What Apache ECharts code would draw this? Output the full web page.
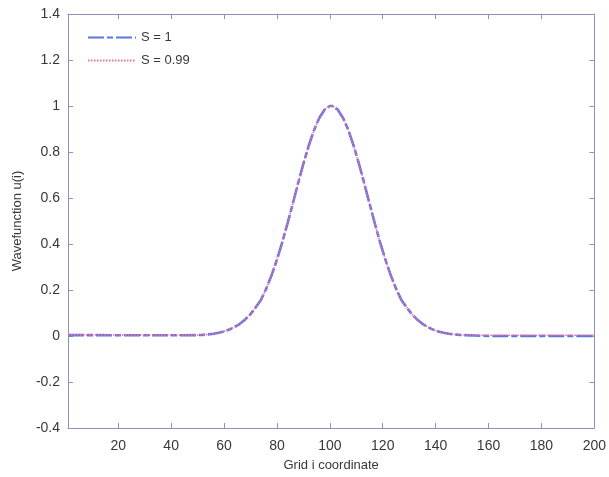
<!DOCTYPE html>
<html>
<head>
<meta charset="utf-8">
<script src="https://cdn.jsdelivr.net/npm/echarts@6/dist/echarts.min.js"></script>
<style>
  html, body { margin: 0; padding: 0; background: #ffffff; }
  #chart { width: 609px; height: 477px; }
</style>
</head>
<body>
<div id="chart"></div>
<script>
const gridI = [1, 10, 20, 30, 40, 45,
  50, 52, 54, 56, 58, 60, 62, 64, 66, 68, 70, 72, 74, 76, 78, 80, 82, 84, 86, 88, 90, 92, 94, 96, 98, 100,
  101, 103, 105, 107, 109, 111, 113, 115, 117, 119, 121, 123, 125, 127, 129, 131, 133, 135, 137, 139, 141, 143, 145, 147, 149, 151,
  155, 160, 170, 180, 190, 200];

const valuesS1 = [0.004, 0.004, 0.003, 0.003, 0.003, 0.003,
  0.004, 0.005, 0.007, 0.010, 0.014, 0.020, 0.028, 0.039, 0.053, 0.072, 0.095, 0.125, 0.158, 0.207, 0.265, 0.332, 0.407, 0.490, 0.576, 0.664, 0.749, 0.827, 0.895, 0.948, 0.984, 1.000,
  1.000, 0.984, 0.948, 0.895, 0.827, 0.749, 0.664, 0.576, 0.490, 0.407, 0.332, 0.265, 0.207, 0.158, 0.125, 0.095, 0.072, 0.053, 0.039, 0.028, 0.020, 0.014, 0.010, 0.007, 0.005, 0.004,
  0.002, 0.000, 0.000, 0.000, 0.000, 0.000];

const valuesS099 = [0.005, 0.005, 0.004, 0.004, 0.004, 0.004,
  0.004, 0.005, 0.007, 0.010, 0.014, 0.020, 0.028, 0.039, 0.053, 0.072, 0.095, 0.125, 0.158, 0.207, 0.265, 0.332, 0.407, 0.490, 0.576, 0.664, 0.749, 0.827, 0.895, 0.948, 0.984, 1.000,
  1.000, 0.984, 0.948, 0.895, 0.827, 0.749, 0.664, 0.576, 0.490, 0.407, 0.332, 0.265, 0.207, 0.158, 0.125, 0.095, 0.072, 0.053, 0.039, 0.028, 0.020, 0.014, 0.010, 0.007, 0.005, 0.004,
  0.004, 0.003, 0.003, 0.003, 0.003, 0.003];

const xTicks = [20, 40, 60, 80, 100, 120, 140, 160, 180, 200];
const seriesNames = ['S = 1', 'S = 0.99'];
const xTitle = 'Grid i coordinate';
const yTitle = 'Wavefunction u(i)';

const axisColor = '#8a92bf';
const textColor = '#383838';
const font = '"Liberation Sans", Arial, sans-serif';

const chart = echarts.init(document.getElementById('chart'), null, { renderer: 'canvas' });

const pairs = (vals) => gridI.map((x, i) => [x, vals[i]]);

const option = {
  animation: false,
  backgroundColor: '#ffffff',
  textStyle: { fontFamily: font },
  grid: { left: 68, right: 12, top: 14, bottom: 49, containLabel: false },
  legend: {
    orient: 'vertical',
    left: 82,
    top: 26,
    itemWidth: 48,
    itemHeight: 14,
    itemGap: 10,
    itemStyle: { opacity: 0 },
    textStyle: { fontSize: 13, color: textColor, fontFamily: font },
    data: seriesNames
  },
  xAxis: [{
    type: 'value',
    min: 1,
    max: 200,
    position: 'bottom',
    name: xTitle,
    nameLocation: 'middle',
    nameGap: 31,
    nameTextStyle: { fontSize: 13, color: textColor, fontFamily: font },
    axisLine: { show: true, onZero: false, lineStyle: { color: axisColor, width: 1 } },
    axisTick: { show: true, inside: true, length: 5, customValues: xTicks, lineStyle: { color: axisColor } },
    axisLabel: { show: true, customValues: xTicks, margin: 11, fontSize: 14, color: textColor, fontFamily: font },
    splitLine: { show: false }
  }, {
    type: 'value',
    min: 1,
    max: 200,
    position: 'top',
    axisLine: { show: true, onZero: false, lineStyle: { color: axisColor, width: 1 } },
    axisTick: { show: true, inside: true, length: 5, customValues: xTicks, lineStyle: { color: axisColor } },
    axisLabel: { show: false },
    splitLine: { show: false }
  }],
  yAxis: [{
    type: 'value',
    min: -0.4,
    max: 1.4,
    interval: 0.2,
    position: 'left',
    name: yTitle,
    nameLocation: 'middle',
    nameGap: 44,
    nameRotate: 90,
    nameTextStyle: { fontSize: 13, color: textColor, fontFamily: font },
    axisLine: { show: true, onZero: false, lineStyle: { color: axisColor, width: 1 } },
    axisTick: { show: true, inside: true, length: 5, lineStyle: { color: axisColor } },
    axisLabel: {
      show: true, margin: 8, fontSize: 14, color: textColor, fontFamily: font,
      formatter: (v) => String(Math.round(v * 10) / 10)
    },
    splitLine: { show: false }
  }, {
    type: 'value',
    min: -0.4,
    max: 1.4,
    interval: 0.2,
    position: 'right',
    axisLine: { show: true, onZero: false, lineStyle: { color: axisColor, width: 1 } },
    axisTick: { show: true, inside: true, length: 5, lineStyle: { color: axisColor } },
    axisLabel: { show: false },
    splitLine: { show: false }
  }],
  series: [{
    name: seriesNames[0],
    type: 'line',
    xAxisIndex: 0,
    yAxisIndex: 0,
    data: pairs(valuesS1),
    showSymbol: false,
    symbol: 'none',
    color: '#5d76dc',
    lineStyle: { color: '#5d76dc', width: 2.6, type: [16, 3, 6, 3] },
    z: 2
  }, {
    name: seriesNames[1],
    type: 'line',
    xAxisIndex: 0,
    yAxisIndex: 0,
    data: pairs(valuesS099),
    showSymbol: false,
    symbol: 'none',
    color: '#ee6fa6',
    lineStyle: { color: '#ee6fa6', width: 1.6, type: [1.5, 1.5] },
    z: 3
  }]
};

chart.setOption(option);
</script>
</body>
</html>
